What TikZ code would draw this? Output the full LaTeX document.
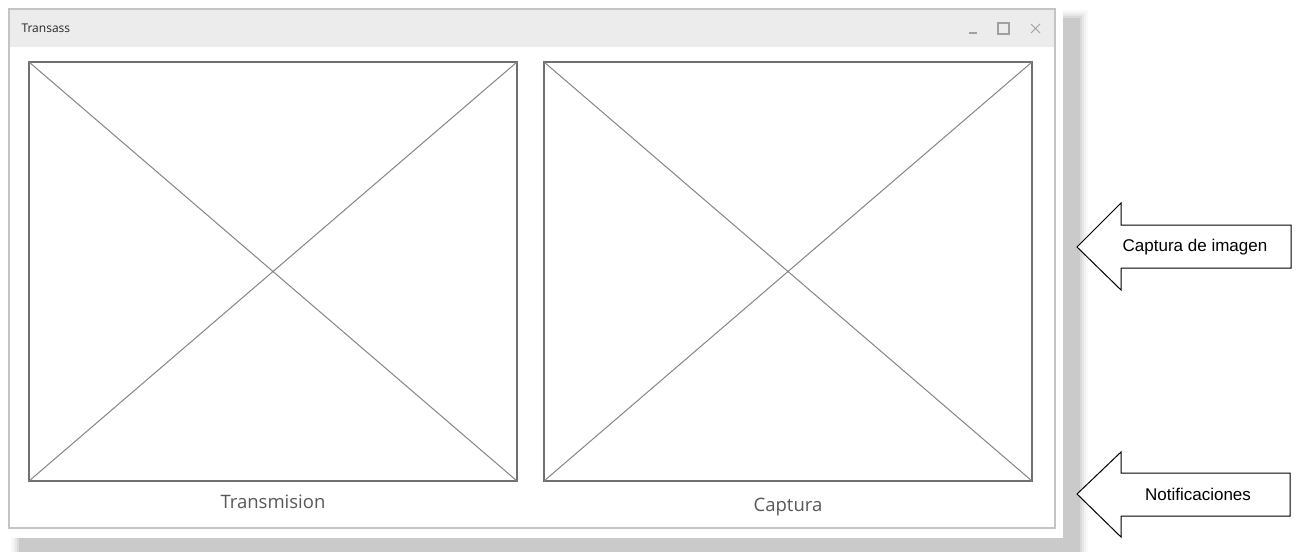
\documentclass[tikz,border=0pt]{standalone}
\usepackage{fontspec}
\setmainfont{Liberation Sans}
\newfontfamily\uifont{Open Sans}
\usetikzlibrary{positioning}
\definecolor{frameGray}{RGB}{196,196,196}
\definecolor{barGray}{RGB}{236,236,236}
\definecolor{shadowGray}{RGB}{202,202,202}
\definecolor{boxGray}{RGB}{112,112,112}
\definecolor{inkGray}{RGB}{88,88,88}
\definecolor{iconGray}{RGB}{160,160,160}
\tikzset{
  image box/.style={draw=boxGray,line width=1.6pt,minimum width=488pt,minimum height=419pt,inner sep=0pt,outer sep=0pt},
  image cross/.style={draw=boxGray!85,line width=1pt},
  caption text/.style={font=\uifont\fontsize{18.5}{20}\selectfont,text=inkGray},
  title text/.style={font=\uifont\fontsize{12}{14}\selectfont,text=black!85},
  icon line/.style={draw=iconGray,line width=1.2pt},
  callout/.style={draw=black,line width=1pt,fill=white,line join=miter},
  callout text/.style={font=\fontsize{17}{19}\selectfont,text=black}
}
\begin{document}
\begin{tikzpicture}[x=1pt,y=-1pt]
  \useasboundingbox (0,0) rectangle (1298,552);
  % soft shadow behind the window
  \foreach \d/\t in {8/12,6/25,4/45,2/70,0/100}
    \fill[shadowGray!\t] (19-\d,18-\d) rectangle (1080+\d,552);
  \fill[white] (0,0) rectangle (1063,538);
  % window
  \fill[barGray] (9,9) rectangle (1055,47);
  \draw[frameGray,line width=1.5pt] (9,9) rectangle (1055,528);
  \node[title text,anchor=west] (title) at (18,28) {Transass};
  \draw[icon line] (969,33) -- (977,33);
  \draw[icon line] (998,23) rectangle (1009,34);
  \draw[icon line,line width=1pt] (1031,24) -- (1040,33) (1031,33) -- (1040,24);
  % image placeholders
  \node[image box,anchor=north west] (stream) at (29,62) {};
  \node[image box,right=27pt of stream] (capture) {};
  \draw[image cross] (stream.north west) -- (stream.south east) (stream.south west) -- (stream.north east);
  \draw[image cross] (capture.north west) -- (capture.south east) (capture.south west) -- (capture.north east);
  \node[caption text,below=10pt of stream] (streamlabel) {Transmision};
  \node[caption text,below=14pt of capture] (capturelabel) {Captura};
  % callouts
  \draw[callout] (1077,247) -- (1121,203) -- (1121,225) -- (1291,225) -- (1291,268) -- (1121,268) -- (1121,290) -- cycle;
  \node[callout text] (grab) at (1195,247) {Captura de imagen};
  \draw[callout] (1077,494) -- (1121,452) -- (1121,473) -- (1290,473) -- (1290,516) -- (1121,516) -- (1121,537) -- cycle;
  \node[callout text] (notes) at (1198,494) {Notificaciones};
\end{tikzpicture}
\end{document}
